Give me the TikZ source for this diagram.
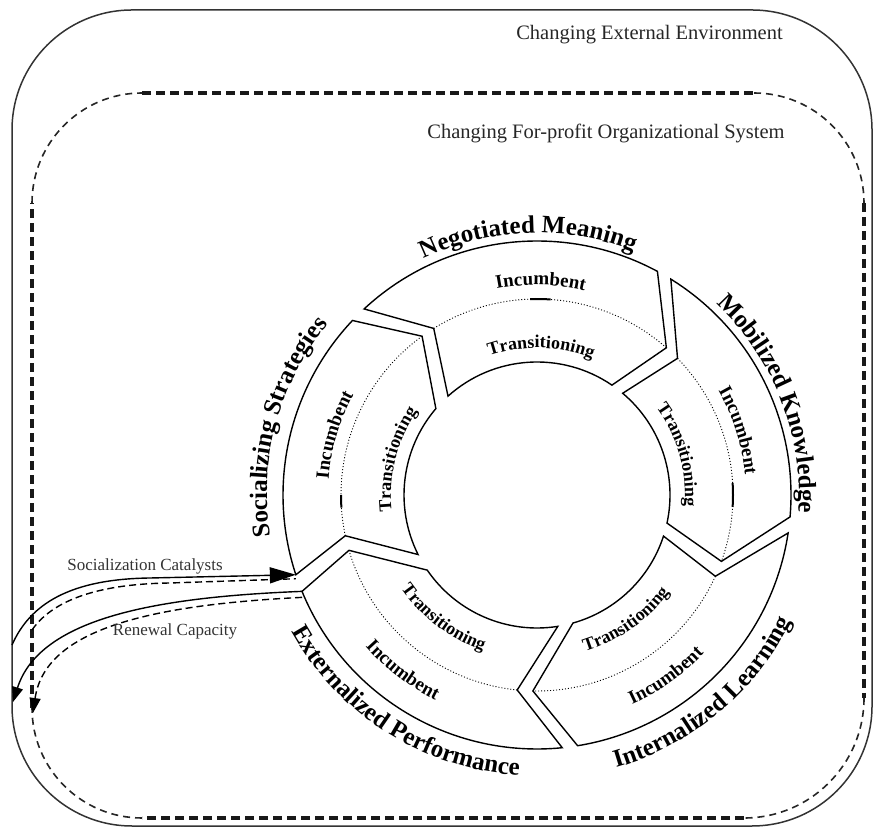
\documentclass[tikz,border=0pt]{standalone}
\usepackage{fontspec}
\setmainfont{Liberation Serif}
\usetikzlibrary{decorations.text,arrows.meta}
\newcommand\rlab{\bfseries\fontsize{25}{30}\selectfont}
\newcommand\ilab{\bfseries\fontsize{19}{22}\selectfont}
\newcommand\tlab{\bfseries\fontsize{18}{22}\selectfont}
% #1 trailing outer, #2 notch, #3 trailing inner, #4 leading outer, #5 tip, #6 leading inner
\newcommand\ringseg[6]{%
  \draw[segline] ([shift={(C)}]#1:254pt) arc[start angle=#1, end angle=#4, radius=254pt]
    -- ([shift={(C)}]#5:196pt) -- ([shift={(C)}]#6:133pt)
    arc[start angle=#6, end angle=#3, radius=133pt]
    -- ([shift={(C)}]#2:196pt) -- cycle;
  \draw[midline] ([shift={(C)}]#2:196pt) arc[start angle=#2, end angle=#5, radius=196pt];
}
\begin{document}
\begin{tikzpicture}[x=1pt,y=1pt,
  segline/.style={line width=1.4pt, line join=miter},
  midline/.style={line width=0.9pt, dash pattern=on 1pt off 2pt},
  blip/.style={line width=2pt},
  frame/.style={line width=1.5pt, black!80},
  dashcorner/.style={line width=1.6pt, dash pattern=on 7pt off 5pt, black!85},
  dashedge/.style={line width=3.2pt, dash pattern=on 9pt off 5pt, black!90},
  toplabel/.style={font=\fontsize{20.5}{24}\selectfont, text=black!85, inner sep=0pt, anchor=base},
  looplabel/.style={font=\fontsize{17}{20}\selectfont, text=black!80, inner sep=0pt, anchor=base},
  ringtext/.style={decorate, decoration={text along path, text align=center, text={#1}}},
  loopline/.style={line width=1.4pt},
  loopdash/.style={line width=1.4pt, dash pattern=on 7pt off 4pt},
]
\useasboundingbox (0,0) rectangle (874,829);
\coordinate (C) at (537,334);

% outer environment frame
\draw[frame, rounded corners=120pt] (12,3) rectangle (872,819);

% organizational system frame (thin dashed corners, heavy dashed edges)
\draw[dashcorner] (32,626) arc[start angle=180, end angle=90, radius=110pt];
\draw[dashcorner] (754,736) arc[start angle=90, end angle=0, radius=110pt];
\draw[dashcorner] (864,131) arc[start angle=0, end angle=-90, radius=120pt];
\draw[dashcorner] (142,11) arc[start angle=270, end angle=180, radius=110pt];
\draw[dashedge] (142,736) -- (754,736);
\draw[dashedge] (864,626) -- (864,131);
\draw[dashedge] (744,11) -- (142,11);
\draw[dashedge] (32,121) -- (32,626);

% labels of the frames
\node[toplabel] (env) at (649.5,789) {Changing External Environment};
\node[toplabel] (org) at (606,690) {Changing For-profit Organizational System};

% ring segments
\ringseg{132.9}{121.8}{132.0}{61.7}{48.7}{55.7}
\ringseg{58.2}{44.2}{49.9}{-4.95}{-19.8}{-12.2}
\ringseg{-8.6}{-24.5}{-18.0}{-80.8}{-91.2}{-74.3}
\ringseg{-84.3}{-95.8}{-81.0}{-157.7}{-163.6}{-145.6}
\ringseg{-161.7}{-168.0}{-153.4}{-223.4}{-234.1}{-220.5}

% small solid marks on the dotted arcs
\draw[blip] ([shift={(C)}]92:196pt) arc[start angle=92, end angle=86, radius=196pt];
\draw[blip] ([shift={(C)}]3.5:196pt) arc[start angle=3.5, end angle=-3.5, radius=196pt];
\draw[blip] ([shift={(C)}]180:196pt) arc[start angle=180, end angle=183.7, radius=196pt];

% ring labels
\path[ringtext={|\rlab|Negotiated Meaning}] ([shift={(C)}]152:262pt) arc[start angle=152, end angle=32, radius=262pt];
\path[ringtext={|\rlab|Mobilized Knowledge}] ([shift={(C)}]81.5:262pt) arc[start angle=81.5, end angle=-38.5, radius=262pt];
\path[ringtext={|\rlab|Socializing Strategies}] ([shift={(C)}]224.8:270pt) arc[start angle=224.8, end angle=104.8, radius=270pt];
\path[ringtext={|\rlab|Externalized Performance}] ([shift={(C)}]177.7:281pt) arc[start angle=177.7, end angle=297.7, radius=281pt];
\path[ringtext={|\rlab|Internalized Learning}] ([shift={(C)}]-110.1:284pt) arc[start angle=-110.1, end angle=9.9, radius=284pt];

% band labels
\path[ringtext={|\ilab|Incumbent}] ([shift={(C)}]134:210pt) arc[start angle=134, end angle=44, radius=210pt];
\path[ringtext={|\tlab|Transitioning}] ([shift={(C)}]133.4:147pt) arc[start angle=133.4, end angle=43.4, radius=147pt];
\path[ringtext={|\ilab|Incumbent}] ([shift={(C)}]62.7:209pt) arc[start angle=62.7, end angle=-27.3, radius=209pt];
\path[ringtext={|\tlab|Transitioning}] ([shift={(C)}]61:148pt) arc[start angle=61, end angle=-29, radius=148pt];
\path[ringtext={|\ilab|Incumbent}] ([shift={(C)}]208.5:209pt) arc[start angle=208.5, end angle=118.5, radius=209pt];
\path[ringtext={|\tlab|Transitioning}] ([shift={(C)}]210.7:146pt) arc[start angle=210.7, end angle=120.7, radius=146pt];
\path[ringtext={|\ilab|Incumbent}] ([shift={(C)}]187.6:229pt) arc[start angle=187.6, end angle=277.6, radius=229pt];
\path[ringtext={|\tlab|Transitioning}] ([shift={(C)}]187.7:165pt) arc[start angle=187.7, end angle=277.7, radius=165pt];
\path[ringtext={|\ilab|Incumbent}] ([shift={(C)}]-99.5:230pt) arc[start angle=-99.5, end angle=-9.5, radius=230pt];
\path[ringtext={|\tlab|Transitioning}] ([shift={(C)}]-99.6:164pt) arc[start angle=-99.6, end angle=-9.6, radius=164pt];

% loop connectors
\coordinate (ssout) at ([shift={(C)}]-161.7:254pt);
\coordinate (eplo) at ([shift={(C)}]-157.7:254pt);
\coordinate (scs) at (12,184);
\coordinate (scd) at (32,199);
\coordinate (rcs) at (13,127);
\coordinate (rcd) at (33,116);

\draw[loopdash] (scd) .. controls (50,225) and (90,245) .. (170,246) -- ([yshift=-4pt]ssout);
\draw[loopline, -{Triangle[length=26pt,width=16pt]}] (scs) .. controls (30,225) and (70,250) .. (150,251) -- (ssout);
\draw[loopline, -{Triangle[length=15pt,width=11pt]}] (eplo) .. controls (160,232) and (40,212) .. (rcs);
\draw[loopdash, -{Triangle[length=15pt,width=11pt]}] ([yshift=-6pt]eplo) .. controls (150,224) and (45,200) .. (rcd);

\node[looplabel] (catal) at (145,258) {Socialization Catalysts};
\node[looplabel] (renew) at (175,193) {Renewal Capacity};
\end{tikzpicture}
\end{document}
